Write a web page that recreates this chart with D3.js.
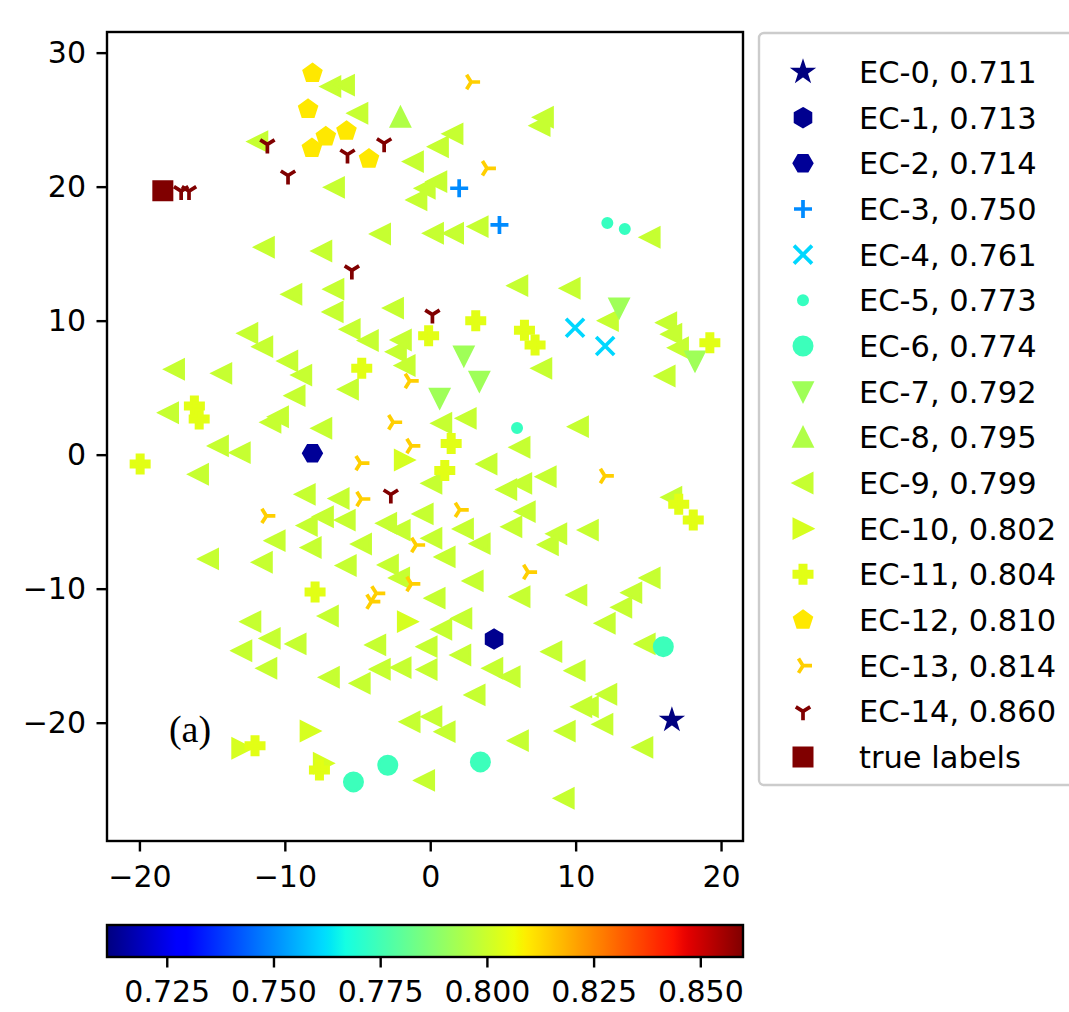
<!DOCTYPE html>
<html><head><meta charset="utf-8">
<script src="https://cdn.jsdelivr.net/npm/d3@7"></script>
<style>body{margin:0;background:#fff}svg{display:block}text{font-family:"DejaVu Sans",sans-serif}</style>
</head><body><svg id="c" width="1069" height="1012"></svg>
<script>
// ---------------- data ----------------
const seriesNames = ["EC-0","EC-1","EC-2","EC-3","EC-4","EC-5","EC-6","EC-7","EC-8","EC-9","EC-10","EC-11","EC-12","EC-13","EC-14"];
const seriesScores = [0.711,0.713,0.714,0.750,0.761,0.773,0.774,0.792,0.795,0.799,0.802,0.804,0.810,0.814,0.860];
const seriesShapes = ["star","hex1","hex2","plus","x","point","circle","tri_down","tri_up","tri_left","tri_right","plus_filled","pentagon","y_right","y_down"];
const ec0 = [[16.62,-19.80]];
const ec1 = [[4.39,-13.76]];
const ec2 = [[-8.10,0.10]];
const ec3 = [[1.99,19.88],[4.76,17.14]];
const ec4 = [[9.96,9.47],[12.03,8.11]];
const ec5 = [[12.18,17.29],[13.38,16.84],[5.97,1.99]];
const ec6 = [[16.03,-14.33],[3.45,-22.93],[-2.92,-23.18],[-5.28,-24.42]];
const ec7 = [[2.31,7.37],[3.38,5.48],[0.65,4.21],[12.99,10.95],[18.21,6.99]];
const ec8 = [[-2.05,25.18]];
const ec9 = [[-6.84,27.47],[-5.90,27.58],[-4.98,25.48],[-11.86,23.36],[-1.16,21.87],[-6.59,19.95],[-3.42,16.47],[-11.41,15.48],[-7.46,15.20],[-9.52,11.97],
[-6.63,12.35],[-2.53,10.94],[-6.68,10.65],[7.78,25.18],[7.55,24.55],[1.56,23.94],[0.56,22.98],[0.45,20.37],[-0.35,19.88],[-0.92,19.01],
[0.22,16.52],[1.60,16.52],[3.29,17.02],[15.12,16.22],[6.02,12.61],[9.62,12.42],[-12.55,9.06],[-11.52,8.06],[-5.51,9.35],[-4.26,8.52],
[-1.99,8.56],[-2.33,7.68],[-1.73,6.65],[-9.80,6.99],[-8.84,5.94],[-5.63,4.88],[-9.30,4.40],[-17.59,6.37],[-14.34,6.07],[-18.0,3.13],
[-10.96,2.42],[-10.44,2.83],[-7.46,1.97],[-14.57,0.65],[-13.07,0.15],[-15.94,-1.46],[-8.60,-2.96],[-6.27,-3.27],[-8.46,-5.29],[-7.35,-4.63],
[-5.85,-4.88],[-3.0,-5.12],[-2.07,-5.63],[-0.49,-4.42],[-10.67,-6.42],[-8.19,-6.93],[-4.73,-6.67],[-15.25,-7.78],[-11.55,-8.03],[-5.78,-8.27],
[-2.88,-8.23],[-2.11,-9.20],[12.25,10.0],[16.26,9.85],[16.61,8.99],[17.07,7.98],[7.67,6.44],[16.15,5.87],[0.79,2.34],[2.47,2.71],
[10.19,2.09],[6.17,0.55],[3.90,-0.70],[0.11,-2.14],[5.26,-2.60],[6.29,-2.14],[7.97,-1.64],[16.61,-3.18],[6.53,-4.25],[5.61,-5.38],
[2.28,-5.54],[0.11,-6.24],[3.43,-6.64],[8.70,-5.90],[8.12,-6.72],[10.87,-5.63],[1.02,-7.63],[2.95,-9.42],[15.12,-9.20],[-12.34,-12.46],
[-11.01,-13.71],[-9.23,-14.12],[-12.96,-14.63],[-7.01,-12.04],[-3.75,-14.20],[-11.24,-15.94],[-6.94,-16.61],[-4.82,-17.06],[-3.44,-16.01],[-2.01,-15.89],
[-0.22,-14.33],[-0.22,-16.03],[-1.39,-19.93],[-0.39,-24.31],[0.33,-10.71],[6.17,-10.60],[10.08,-10.48],[13.86,-10.30],[13.17,-11.39],[12.03,-12.58],
[2.17,-12.22],[0.79,-13.03],[2.10,-14.95],[4.30,-15.94],[5.49,-16.57],[8.36,-14.70],[9.96,-16.12],[14.78,-14.12],[3.08,-17.93],[12.14,-17.88],
[10.42,-18.81],[10.87,-18.81],[11.87,-20.12],[0.11,-19.55],[1.02,-20.67],[6.06,-21.34],[9.28,-20.63],[14.62,-21.84],[9.21,-25.64]];
const ec10 = [[-1.78,-0.40],[-1.57,-12.46],[-8.26,-20.62],[-12.96,-21.91],[-7.35,-23.03]];
const ec11 = [[-4.71,6.44],[-16.22,3.63],[-15.89,2.66],[-19.95,-0.70],[-0.11,8.88],[3.13,10.0],[6.48,9.28],[7.21,8.18],[19.23,8.36],[1.44,0.84],
[1.0,-1.19],[17.09,-3.71],[18.09,-4.87],[-7.92,-10.25],[-12.05,-21.72],[-7.62,-23.53]];
const ec12 = [[-8.10,28.46],[-8.40,25.78],[-7.18,23.73],[-5.76,24.15],[-8.14,22.86],[-4.21,22.07]];
const ec13 = [[2.81,27.81],[3.90,21.37],[-1.41,5.50],[-2.55,2.42],[-1.30,0.65],[-4.80,-0.63],[-4.74,-3.31],[-11.27,-4.57],[-0.97,-6.74],[2.03,-4.12],
[6.73,-8.76],[12.01,-1.59],[-1.30,-9.65],[-3.71,-10.35],[-4.05,-10.97]];
const ec14 = [[-11.20,23.15],[-9.78,20.83],[-5.69,22.40],[-3.17,23.24],[-5.39,13.75],[0.15,10.45],[-2.71,-2.97],[-17.13,19.67],[-16.59,19.67]];
const trueLabels = [[-18.39,19.70]];
const trueLabelScore = 0.860;
const seriesPoints = [ec0,ec1,ec2,ec3,ec4,ec5,ec6,ec7,ec8,ec9,ec10,ec11,ec12,ec13,ec14];
const xTicks = [-20,-10,0,10,20];
const yTicks = [-20,-10,0,10,20,30];
const cbTicks = [0.725,0.750,0.775,0.800,0.825,0.850];
const cbRange = [0.711,0.860];
const panelLabel = "(a)";

// ---------------- helpers ----------------
function jet(t){
  t = Math.max(0, Math.min(1, t));
  const seg = pts => { for (let i=1;i<pts.length;i++){ if (t<=pts[i][0]){ const [x0,y0]=pts[i-1],[x1,y1]=pts[i]; return y0+(y1-y0)*(t-x0)/(x1-x0);} } return pts[pts.length-1][1]; };
  const r = seg([[0,0],[0.35,0],[0.66,1],[0.89,1],[1,0.5]]);
  const g = seg([[0,0],[0.125,0],[0.375,1],[0.64,1],[0.91,0],[1,0]]);
  const b = seg([[0,0.5],[0.11,1],[0.34,1],[0.65,0],[1,0]]);
  return d3.rgb(Math.round(r*255),Math.round(g*255),Math.round(b*255)).formatHex();
}
const cScale = d3.scaleLinear().domain(cbRange).range([0,1]);
const colorOf = v => jet(cScale(v));

const S = 18, EW = 3, LW = 3.7, h = S/2;
function poly(n, startDeg, r){ const p=[]; for(let i=0;i<n;i++){ const a=(startDeg+i*360/n)*Math.PI/180; p.push([r*Math.cos(a), r*Math.sin(a)]);} return "M"+p.map(q=>q[0].toFixed(2)+","+q[1].toFixed(2)).join("L")+"Z"; }
function shapePath(shape){
  switch(shape){
    case "star": { const p=[]; for(let i=0;i<10;i++){ const r=i%2?h*0.381966:h; const a=-Math.PI/2+i*Math.PI/5; p.push([r*Math.cos(a),r*Math.sin(a)]);} return "M"+p.map(q=>q[0].toFixed(2)+","+q[1].toFixed(2)).join("L")+"Z"; }
    case "hex1": return poly(6,-90,h);
    case "hex2": return poly(6,0,h);
    case "pentagon": return poly(5,-90,h);
    case "circle": return `M${-h},0A${h},${h} 0 1,0 ${h},0A${h},${h} 0 1,0 ${-h},0Z`;
    case "point": { const r=h/2; return `M${-r},0A${r},${r} 0 1,0 ${r},0A${r},${r} 0 1,0 ${-r},0Z`; }
    case "tri_up": return `M0,${-h}L${-h},${h}L${h},${h}Z`;
    case "tri_down": return `M0,${h}L${-h},${-h}L${h},${-h}Z`;
    case "tri_left": return `M${-h},0L${h},${-h}L${h},${h}Z`;
    case "tri_right": return `M${h},0L${-h},${-h}L${-h},${h}Z`;
    case "square": return `M${-h},${-h}L${h},${-h}L${h},${h}L${-h},${h}Z`;
    case "plus_filled": { const a=S/6, b=S/2; return `M${-a},${-b}L${a},${-b}L${a},${-a}L${b},${-a}L${b},${a}L${a},${a}L${a},${b}L${-a},${b}L${-a},${a}L${-b},${a}L${-b},${-a}L${-a},${-a}Z`; }
    case "plus": return `M${-h},0L${h},0M0,${-h}L0,${h}`;
    case "x": return `M${-h},${-h}L${h},${h}M${-h},${h}L${h},${-h}`;
    case "y_right": return `M0,0L${h},0M0,0L${-0.5*h},${-0.8*h}M0,0L${-0.5*h},${0.8*h}`;
    case "y_down": return `M0,0L0,${h}M0,0L${0.8*h},${-0.5*h}M0,0L${-0.8*h},${-0.5*h}`;
  }
}
const lineShapes = new Set(["plus","x","y_right","y_down"]);
function styleMarker(sel, shape, color){
  sel.attr("d", shapePath(shape));
  if (lineShapes.has(shape)) sel.attr("fill","none").attr("stroke",color).attr("stroke-width",LW).attr("stroke-linecap","butt");
  else sel.attr("fill",color).attr("stroke",color).attr("stroke-width",EW).attr("stroke-linejoin","miter");
}

// ---------------- layout ----------------
const svg = d3.select("#c");
const L=107, R=743, T=32, B=841;
const x = d3.scaleLinear().domain([-22.23, 21.51]).range([L, R]);
const y = d3.scaleLinear().domain([-28.83, 31.54]).range([B, T]);
const FS = 30;

// markers
const order = [9,0,1,2,3,4,5,6,7,8,10,11,12,13,14];
const gPts = svg.append("g");
order.forEach(i => {
  const col = colorOf(seriesScores[i]);
  gPts.selectAll(null).data(seriesPoints[i]).enter().append("path")
    .attr("transform", d => `translate(${x(d[0])},${y(d[1])})`)
    .each(function(){ styleMarker(d3.select(this), seriesShapes[i], col); });
});
gPts.selectAll(null).data(trueLabels).enter().append("path")
  .attr("transform", d => `translate(${x(d[0])},${y(d[1])})`)
  .each(function(){ styleMarker(d3.select(this), "square", colorOf(trueLabelScore)); });

// panel label
svg.append("text").attr("x", 190).attr("y", 742).attr("text-anchor","middle")
  .style("font-family","'Liberation Serif','DejaVu Serif',serif").style("font-size","38px").text(panelLabel);

// frame
svg.append("rect").attr("x",L).attr("y",T).attr("width",R-L).attr("height",B-T)
  .attr("fill","none").attr("stroke","#000").attr("stroke-width",2.4);

// axes
const ax = svg.append("g").attr("transform",`translate(0,${B})`)
  .call(d3.axisBottom(x).tickValues(xTicks).tickSize(10.5).tickPadding(14).tickFormat(d3.format("d")));
const ay = svg.append("g").attr("transform",`translate(${L},0)`)
  .call(d3.axisLeft(y).tickValues(yTicks).tickSize(10.5).tickPadding(10.5).tickFormat(d3.format("d")));
[ax,ay].forEach(a=>{ a.select(".domain").remove(); a.selectAll("line").attr("stroke","#000").attr("stroke-width",2.4);
  a.selectAll("text").style("font-family","'DejaVu Sans',sans-serif").style("font-size",FS+"px").attr("fill","#000"); });

// legend
const lg = svg.append("g");
lg.append("rect").attr("x",759).attr("y",33).attr("width",330).attr("height",752).attr("rx",5)
  .attr("fill","#fff").attr("stroke","#cccccc").attr("stroke-width",2.4);
const legendItems = seriesNames.map((n,i)=>({label:`${n}, ${seriesScores[i].toFixed(3)}`, shape:seriesShapes[i], color:colorOf(seriesScores[i])}));
legendItems.push({label:"true labels", shape:"square", color:colorOf(trueLabelScore)});
const rowY = d3.scaleLinear().domain([0, legendItems.length-1]).range([72, 757]);
legendItems.forEach((it,i)=>{
  const gy = rowY(i);
  lg.append("path").attr("transform",`translate(803,${gy})`).each(function(){ styleMarker(d3.select(this), it.shape, it.color); });
  lg.append("text").attr("x",859).attr("y",gy).attr("dy","0.36em").style("font-size","30.5px").attr("fill","#000").text(it.label);
});

// colorbar
const CB = {x0:107, x1:743, y0:925, y1:957};
const defs = svg.append("defs");
const grad = defs.append("linearGradient").attr("id","jetg").attr("x1","0%").attr("x2","100%").attr("y1","0%").attr("y2","0%");
d3.range(0,1.0001,1/128).forEach(t=> grad.append("stop").attr("offset",(t*100)+"%").attr("stop-color", jet(t)));
svg.append("rect").attr("x",CB.x0).attr("y",CB.y0).attr("width",CB.x1-CB.x0).attr("height",CB.y1-CB.y0).attr("fill","url(#jetg)");
svg.append("rect").attr("x",CB.x0).attr("y",CB.y0).attr("width",CB.x1-CB.x0).attr("height",CB.y1-CB.y0)
  .attr("fill","none").attr("stroke","#000").attr("stroke-width",2.4);
const cbx = d3.scaleLinear().domain(cbRange).range([CB.x0, CB.x1]);
const ac = svg.append("g").attr("transform",`translate(0,${CB.y1})`)
  .call(d3.axisBottom(cbx).tickValues(cbTicks).tickSize(10.5).tickPadding(13).tickFormat(d3.format(".3f")));
ac.select(".domain").remove();
ac.selectAll("line").attr("stroke","#000").attr("stroke-width",2.4);
ac.selectAll("text").style("font-family","'DejaVu Sans',sans-serif").style("font-size",FS+"px").attr("fill","#000");
</script></body></html>
